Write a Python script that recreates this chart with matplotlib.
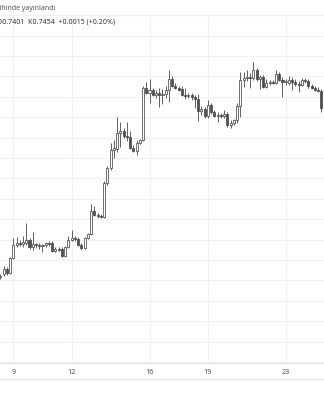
import matplotlib.pyplot as plt
from matplotlib.lines import Line2D
import numpy as np

# 4h candles, values
opens = [0.7285, 0.7288, 0.7293, 0.7289, 0.7304, 0.7317, 0.7319, 0.7318, 0.7319, 0.7322,
         0.7315, 0.7318, 0.7317, 0.7316, 0.7317, 0.7319, 0.7319, 0.7311, 0.7313, 0.7313,
         0.7306, 0.7315, 0.7322, 0.7324, 0.7323, 0.7317, 0.7314, 0.7324, 0.7328, 0.7351,
         0.7347, 0.7346, 0.7345, 0.7379, 0.7394, 0.7412, 0.7413, 0.7429, 0.7431, 0.7426,
         0.7425, 0.7414, 0.7411, 0.7419, 0.7422, 0.7474, 0.7469, 0.7472, 0.7467, 0.7469,
         0.7467, 0.7468, 0.7472, 0.7483, 0.7476, 0.7474, 0.7473, 0.7467, 0.7466, 0.7467,
         0.7465, 0.7463, 0.7451, 0.7453, 0.7446, 0.7457, 0.7450, 0.7446, 0.7447, 0.7446,
         0.7448, 0.7437, 0.7439, 0.7442, 0.7456, 0.7482, 0.7484, 0.7485, 0.7484, 0.7492,
         0.7483, 0.7485, 0.7475, 0.7479, 0.7480, 0.7479, 0.7488, 0.7482, 0.7480, 0.7479,
         0.7482, 0.7480, 0.7478, 0.7477, 0.7482, 0.7481, 0.7476, 0.7474, 0.7472, 0.7471]
highs = [0.7288, 0.7296, 0.7295, 0.7305, 0.7324, 0.7325, 0.7322, 0.7326, 0.7339, 0.7324,
         0.7330, 0.7319, 0.7319, 0.7318, 0.7320, 0.7321, 0.7321, 0.7315, 0.7315, 0.7315,
         0.7316, 0.7326, 0.7332, 0.7326, 0.7325, 0.7319, 0.7325, 0.7329, 0.7358, 0.7356,
         0.7349, 0.7348, 0.7381, 0.7396, 0.7419, 0.7422, 0.7445, 0.7440, 0.7434, 0.7440,
         0.7431, 0.7417, 0.7422, 0.7423, 0.7476, 0.7480, 0.7483, 0.7474, 0.7472, 0.7474,
         0.7473, 0.7476, 0.7492, 0.7486, 0.7479, 0.7476, 0.7476, 0.7474, 0.7469, 0.7469,
         0.7467, 0.7468, 0.7456, 0.7455, 0.7462, 0.7459, 0.7452, 0.7450, 0.7449, 0.7452,
         0.7450, 0.7442, 0.7443, 0.7459, 0.7490, 0.7490, 0.7492, 0.7489, 0.7500, 0.7494,
         0.7487, 0.7487, 0.7483, 0.7482, 0.7482, 0.7492, 0.7490, 0.7485, 0.7483, 0.7486,
         0.7485, 0.7483, 0.7481, 0.7484, 0.7484, 0.7483, 0.7478, 0.7476, 0.7475, 0.7473]
lows = [0.7283, 0.7286, 0.7287, 0.7288, 0.7303, 0.7315, 0.7316, 0.7315, 0.7317, 0.7313,
        0.7312, 0.7314, 0.7313, 0.7310, 0.7315, 0.7316, 0.7310, 0.7310, 0.7311, 0.7305,
        0.7305, 0.7314, 0.7321, 0.7321, 0.7316, 0.7312, 0.7313, 0.7323, 0.7327, 0.7346,
        0.7344, 0.7344, 0.7344, 0.7377, 0.7392, 0.7404, 0.7410, 0.7415, 0.7424, 0.7421,
        0.7413, 0.7410, 0.7407, 0.7418, 0.7421, 0.7468, 0.7459, 0.7466, 0.7464, 0.7455,
        0.7458, 0.7464, 0.7460, 0.7475, 0.7473, 0.7471, 0.7466, 0.7463, 0.7464, 0.7462,
        0.7454, 0.7441, 0.7447, 0.7444, 0.7444, 0.7448, 0.7445, 0.7440, 0.7444, 0.7444,
        0.7435, 0.7434, 0.7437, 0.7439, 0.7445, 0.7475, 0.7481, 0.7474, 0.7482, 0.7481,
        0.7473, 0.7474, 0.7474, 0.7477, 0.7478, 0.7478, 0.7481, 0.7465, 0.7477, 0.7477,
        0.7472, 0.7476, 0.7470, 0.7476, 0.7479, 0.7474, 0.7473, 0.7471, 0.7470, 0.7450]
closes = [0.7286, 0.7293, 0.7289, 0.7304, 0.7317, 0.7319, 0.7318, 0.7320, 0.7322, 0.7315,
          0.7318, 0.7317, 0.7316, 0.7317, 0.7319, 0.7318, 0.7311, 0.7313, 0.7312, 0.7306,
          0.7315, 0.7322, 0.7324, 0.7323, 0.7317, 0.7314, 0.7324, 0.7328, 0.7351, 0.7347,
          0.7346, 0.7345, 0.7379, 0.7394, 0.7412, 0.7414, 0.7429, 0.7431, 0.7426, 0.7425,
          0.7414, 0.7411, 0.7419, 0.7422, 0.7474, 0.7469, 0.7472, 0.7467, 0.7469, 0.7467,
          0.7468, 0.7472, 0.7483, 0.7476, 0.7474, 0.7472, 0.7467, 0.7466, 0.7467, 0.7465,
          0.7463, 0.7451, 0.7453, 0.7446, 0.7457, 0.7450, 0.7446, 0.7447, 0.7446, 0.7448,
          0.7437, 0.7439, 0.7442, 0.7456, 0.7482, 0.7484, 0.7485, 0.7484, 0.7492, 0.7483,
          0.7485, 0.7475, 0.7479, 0.7480, 0.7479, 0.7488, 0.7482, 0.7480, 0.7480, 0.7482,
          0.7480, 0.7478, 0.7477, 0.7482, 0.7481, 0.7476, 0.7474, 0.7472, 0.7471, 0.7454]

first_bar = 8 + 2 / 6   # day 8, 08:00
bar_step = 1 / 6        # 4 hours
day_ticks = [9, 12, 16, 19, 23]
day_labels = ['9', '12', '16', '19', '23']

title_txt = 'tarihinde yayınlandı'
legend_txt = 'D0.7401  K0.7454  +0.0015 (+0.20%)'

grid_col = '#eff1f4'
edge_col = '#4a4a4a'

o = np.array(opens)
h = np.array(highs)
l = np.array(lows)
c = np.array(closes)
t = first_bar + bar_step * np.arange(len(o))

fig = plt.figure(figsize=(3.24, 4.0), dpi=100)
ax = fig.add_axes([0, 37 / 400, 1, 348 / 400])

# grid
for k in range(18):
    ax.axhline(0.75468 - 0.00204 * k, color=grid_col, lw=0.8, zorder=0)
for d in day_ticks:
    ax.axvline(d, color=grid_col, lw=0.8, zorder=0)

# candles
up = c >= o
ax.vlines(t, l, h, color='#555555', lw=0.65, zorder=2)
body_lo = np.minimum(o, c)
body_h = np.maximum(np.abs(c - o), 0.00008)
ax.bar(t[up], body_h[up], width=0.105, bottom=body_lo[up], color='white',
       edgecolor=edge_col, linewidth=0.55, zorder=3)
ax.bar(t[~up], body_h[~up], width=0.105, bottom=body_lo[~up], color='#505050',
       edgecolor=edge_col, linewidth=0.55, zorder=3)

ax.set_xlim(8.3166, 24.966)
ax.set_ylim(0.7199, 0.7547)
ax.set_yticks([])
ax.set_xticks(day_ticks)
ax.set_xticklabels(day_labels, fontsize=5.2, color='#555555', family='Noto Sans')
ax.tick_params(axis='x', length=0, pad=4.2)
for s in ['left', 'right']:
    ax.spines[s].set_visible(False)
ax.spines['bottom'].set_color('#e3e5ea')
ax.spines['top'].set_color(grid_col)
ax.spines['bottom'].set_linewidth(0.8)
ax.spines['top'].set_linewidth(0.8)

fig.add_artist(Line2D([0, 1], [21 / 400, 21 / 400], color='#e3e5ea', lw=0.8))

fig.text(-10 / 324, 1 - 9 / 400, title_txt, fontsize=5.0, color='#555555',
         family='Noto Sans', va='center', ha='left')
fig.text(-3 / 324, 1 - 22 / 400, legend_txt, fontsize=5.1, color='#333333',
         family='Noto Sans', va='center', ha='left')

fig.savefig('out.png', dpi=100)
